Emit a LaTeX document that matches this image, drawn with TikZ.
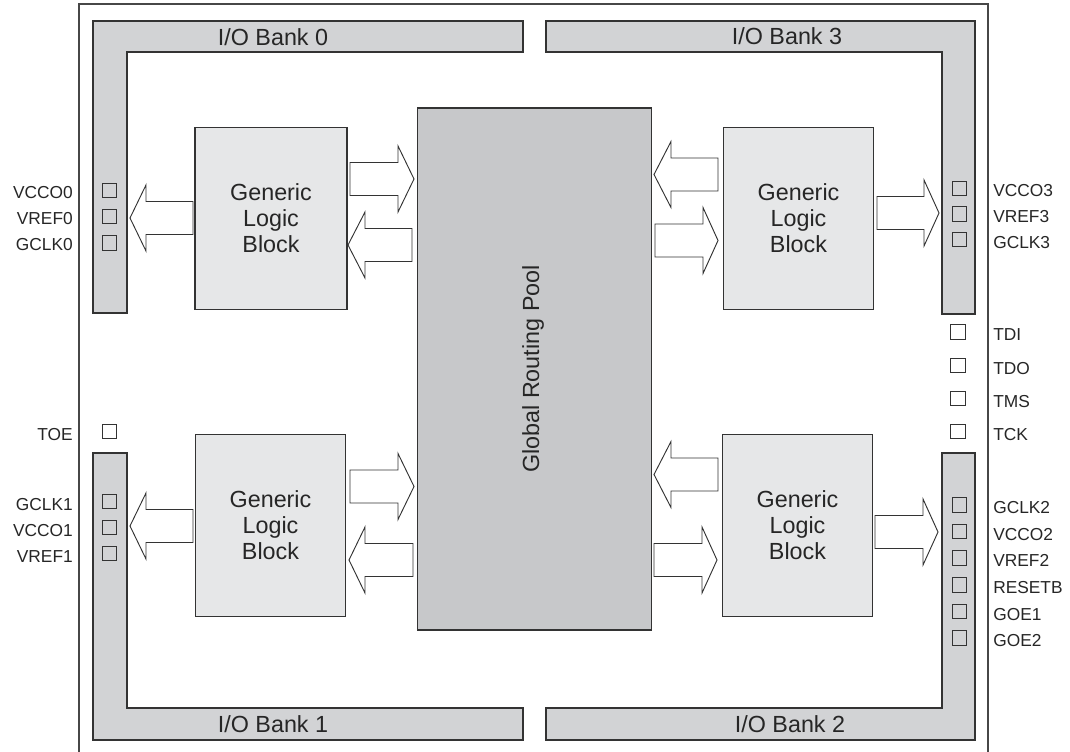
\documentclass[tikz,border=0pt]{standalone}
\usepackage{fontspec}
\setmainfont{Liberation Sans}
\definecolor{bankgray}{HTML}{D2D3D5}
\definecolor{glbgray}{HTML}{E6E7E8}
\definecolor{grpgray}{HTML}{C7C8CA}
\definecolor{edge}{HTML}{333333}
\newcommand\blockarrow[4]{% tail x, head base x, tip x, center y
  \draw[barrow] ({#1},{#4-16.5}) -- ({#2},{#4-16.5}) -- ({#2},{#4-33}) -- ({#3},{#4})
    -- ({#2},{#4+33}) -- ({#2},{#4+16.5}) -- ({#1},{#4+16.5}) -- cycle;}
\begin{document}
\begin{tikzpicture}[x=0.75pt,y=-0.75pt,
  frameline/.style={draw=edge!90, line width=0.8pt},
  bank/.style={draw=edge, fill=bankgray, line width=0.8pt},
  banklabel/.style={font=\fontsize{17.5}{20}\selectfont, text=black!85, inner sep=0pt, anchor=base},
  glb/.style={draw=edge, fill=glbgray, line width=0.8pt, inner sep=0pt, align=center,
    font=\fontsize{17.5}{19.5}\selectfont, text=black!85},
  grp/.style={draw=edge, fill=grpgray, line width=0.8pt, inner sep=0pt},
  pin/.style={draw=edge, fill=bankgray, line width=0.7pt, minimum size=11pt, inner sep=0pt},
  opin/.style={draw=edge, fill=white, line width=0.7pt, minimum size=11pt, inner sep=0pt},
  lpl/.style={font=\fontsize{13}{14}\selectfont, text=black!85, inner sep=0pt, anchor=base east},
  rpl/.style={font=\fontsize{13}{14}\selectfont, text=black!85, inner sep=0pt, anchor=base west},
  barrow/.style={draw=edge, fill=white, line width=0.7pt, line join=miter}]
\useasboundingbox (0,0) rectangle (1070,752);
% outer frame
\draw[frameline] (79,752) -- (79,4) -- (988,4) -- (988,752);
% I/O banks
\draw[bank] (93,21) -- (523,21) -- (523,52) -- (127,52) -- (127,313) -- (93,313) -- cycle;
\draw[bank] (546,21) -- (975,21) -- (975,314) -- (942,314) -- (942,52) -- (546,52) -- cycle;
\draw[bank] (93,453) -- (127,453) -- (127,708) -- (523,708) -- (523,740) -- (93,740) -- cycle;
\draw[bank] (942,453) -- (975,453) -- (975,740) -- (546,740) -- (546,708) -- (942,708) -- cycle;
\node[banklabel] (b0) at (273,45.5) {I/O Bank 0};
\node[banklabel] (b3) at (787,44.5) {I/O Bank 3};
\node[banklabel] (b1) at (273,732) {I/O Bank 1};
\node[banklabel] (b2) at (790,732) {I/O Bank 2};
% Global routing pool
\node[grp, minimum width=176pt, minimum height=391.5pt] (grp) at (534.5,369) {};
\node[rotate=90, font=\fontsize{17.5}{20}\selectfont, text=black!85] (grpt) at (533,369) {Global Routing Pool};
% Generic logic blocks
\node[glb, minimum width=114pt, minimum height=137pt] (glb0) at (271,218.5) {Generic\\Logic\\Block};
\node[glb, minimum width=113pt, minimum height=137pt] (glb3) at (798.5,218.5) {Generic\\Logic\\Block};
\node[glb, minimum width=113pt, minimum height=137pt] (glb1) at (270.5,525.5) {Generic\\Logic\\Block};
\node[glb, minimum width=113pt, minimum height=137pt] (glb2) at (797.5,525.5) {Generic\\Logic\\Block};
% block arrows
\blockarrow{193}{146}{130}{218}
\blockarrow{350}{398}{414}{179}
\blockarrow{412}{365}{348}{245}
\blockarrow{718}{671}{654}{174.5}
\blockarrow{655}{703}{718}{240.5}
\blockarrow{877}{924}{939}{213}
\blockarrow{193}{146}{130}{526}
\blockarrow{350}{398}{414}{486.5}
\blockarrow{413}{365}{349}{560}
\blockarrow{718}{671}{654}{474.5}
\blockarrow{654}{702}{717}{560}
\blockarrow{875}{923}{938}{532}
% left pins
\node[pin] (p_vcco0) at (109.5,190.5) {}; \node[lpl] (l_vcco0) at (73,199) {VCCO0};
\node[pin] (p_vref0) at (109.5,216.5) {}; \node[lpl] (l_vref0) at (73,225) {VREF0};
\node[pin] (p_gclk0) at (109.5,243) {};   \node[lpl] (l_gclk0) at (73,251) {GCLK0};
\node[opin] (p_toe) at (109.5,431.5) {};  \node[lpl] (l_toe) at (73,440) {TOE};
\node[pin] (p_gclk1) at (109.5,501.5) {}; \node[lpl] (l_gclk1) at (73,510) {GCLK1};
\node[pin] (p_vcco1) at (109.5,527.5) {}; \node[lpl] (l_vcco1) at (73,536) {VCCO1};
\node[pin] (p_vref1) at (109.5,553.5) {}; \node[lpl] (l_vref1) at (73,562) {VREF1};
% right pins
\node[pin] (p_vcco3) at (959.5,188.5) {}; \node[rpl] (l_vcco3) at (993,197) {VCCO3};
\node[pin] (p_vref3) at (959.5,214) {};   \node[rpl] (l_vref3) at (993,222.5) {VREF3};
\node[pin] (p_gclk3) at (959.5,239.5) {}; \node[rpl] (l_gclk3) at (993,248) {GCLK3};
\node[opin] (p_tdi) at (958,332) {};      \node[rpl] (l_tdi) at (993,340.5) {TDI};
\node[opin] (p_tdo) at (958,365.5) {};    \node[rpl] (l_tdo) at (993,374) {TDO};
\node[opin] (p_tms) at (958,398.5) {};    \node[rpl] (l_tms) at (993,407) {TMS};
\node[opin] (p_tck) at (958,431.5) {};    \node[rpl] (l_tck) at (993,440) {TCK};
\node[pin] (p_gclk2) at (959.5,505) {};   \node[rpl] (l_gclk2) at (993,513.5) {GCLK2};
\node[pin] (p_vcco2) at (959.5,531.5) {}; \node[rpl] (l_vcco2) at (993,540) {VCCO2};
\node[pin] (p_vref2) at (959.5,558) {};   \node[rpl] (l_vref2) at (993,566.5) {VREF2};
\node[pin] (p_resetb) at (959.5,585) {};  \node[rpl] (l_resetb) at (993,593.5) {RESETB};
\node[pin] (p_goe1) at (959.5,611.5) {};  \node[rpl] (l_goe1) at (993,620) {GOE1};
\node[pin] (p_goe2) at (959.5,638) {};    \node[rpl] (l_goe2) at (993,646.5) {GOE2};
\end{tikzpicture}
\end{document}
